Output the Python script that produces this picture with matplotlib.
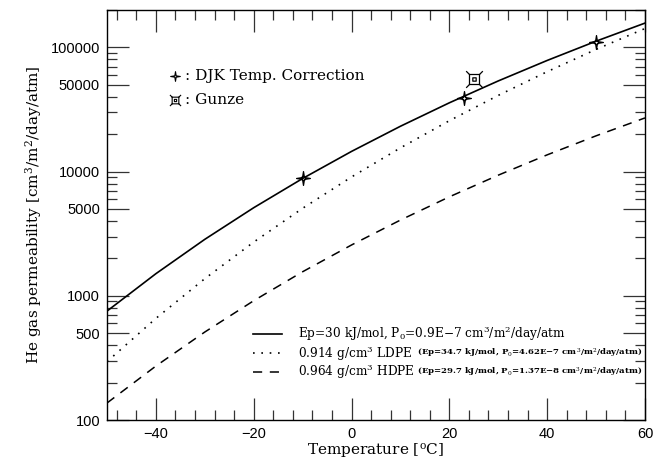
import numpy as np
import matplotlib
matplotlib.use("Agg")
import matplotlib.pyplot as plt
from matplotlib.path import Path
from matplotlib.ticker import FixedLocator, NullFormatter, FuncFormatter

# ---- data ----
temps = [-50, -40, -30, -20, -10, 0, 10, 20, 30, 40, 50, 60]
p_model = [753, 1507, 2849, 5120, 8800, 14540, 23180, 35800, 53700, 78500, 112200, 156900]
p_ldpe = [295, 658, 1374, 2708, 5066, 9054, 15530, 25690, 41070, 63750, 96350, 141900]
p_hdpe = [137, 272, 511, 913, 1562, 2566, 4072, 6264, 9360, 13640, 19410, 27050]

djk_t = [-10, 23, 50]
djk_p = [8800, 39300, 111000]
gunze_t = [25]
gunze_p = [56000]

yticks_major = [100, 500, 1000, 5000, 10000, 50000, 100000]
xticks_major = [-40, -20, 0, 20, 40, 60]

legend_main = ["Ep=30 kJ/mol, P$_0$=0.9E\u22127 cm$^3$/m$^2$/day/atm",
               "0.914 g/cm$^3$ LDPE",
               "0.964 g/cm$^3$ HDPE"]
legend_small = [None,
                "(Ep=34.7 kJ/mol, P$_0$=4.62E\u22127 cm$^3$/m$^2$/day/atm)",
                "(Ep=29.7 kJ/mol, P$_0$=1.37E\u22128 cm$^3$/m$^2$/day/atm)"]

plt.rcParams['mathtext.fontset'] = 'dejavuserif'
serif = 'DejaVu Serif'

# ---- custom markers ----
star_verts = [(0, 1.3), (0.18, 0.18), (1.3, 0), (0.18, -0.18), (0, -1.3),
              (-0.18, -0.18), (-1.3, 0), (-0.18, 0.18), (0, 1.3)]
star = Path(star_verts, [Path.MOVETO] + [Path.LINETO] * 7 + [Path.CLOSEPOLY])

s = 0.6
g_verts = [(-s, -s), (s, -s), (s, s), (-s, s), (-s, -s),
           (s, s), (1, 1), (-s, s), (-1, 1), (s, -s), (1, -1), (-s, -s), (-1, -1),
           (-0.2, -0.2), (0.2, -0.2), (0.2, 0.2), (-0.2, 0.2), (-0.2, -0.2)]
g_codes = [Path.MOVETO, Path.LINETO, Path.LINETO, Path.LINETO, Path.CLOSEPOLY,
           Path.MOVETO, Path.LINETO, Path.MOVETO, Path.LINETO, Path.MOVETO, Path.LINETO,
           Path.MOVETO, Path.LINETO,
           Path.MOVETO, Path.LINETO, Path.LINETO, Path.LINETO, Path.CLOSEPOLY]
gunze_marker = Path(g_verts, g_codes)

fig = plt.figure(figsize=(6.56, 4.66), dpi=100)
ax = fig.add_axes([107 / 656, 46 / 466, 538 / 656, 410 / 466])

ax.plot(temps, p_model, color='black', lw=1.2, ls='-')
ax.plot(temps, p_ldpe, color='black', lw=1.2, ls=(0, (1, 4)))
ax.plot(temps, p_hdpe, color='black', lw=1.1, ls=(0, (6, 5)))

ax.plot(djk_t, djk_p, ls='none', marker=star, ms=10, mfc='none', mec='black', mew=0.9)
ax.plot(djk_t, djk_p, ls='none', marker='o', ms=3, mfc='none', mec='black', mew=0.8)
ax.plot(gunze_t, gunze_p, ls='none', marker=gunze_marker, ms=12, mfc='none', mec='black', mew=0.9)

ax.set_yscale('log')
ax.set_xlim(-50, 60)
ax.set_ylim(100, 2e5)

ax.xaxis.set_major_locator(FixedLocator(xticks_major))
ax.xaxis.set_minor_locator(FixedLocator(np.arange(-48, 60, 4)))
minor_y = []
for dec in [100, 1000, 10000, 100000]:
    for m in [2, 3, 4, 6, 7, 8, 9]:
        if dec * m <= 2e5:
            minor_y.append(dec * m)
ax.yaxis.set_major_locator(FixedLocator(yticks_major))
ax.yaxis.set_minor_locator(FixedLocator(minor_y))
ax.yaxis.set_major_formatter(FuncFormatter(lambda v, p: f"{int(round(v))}"))
ax.yaxis.set_minor_formatter(NullFormatter())
ax.xaxis.set_major_formatter(FuncFormatter(lambda v, p: f"\u2212{int(-v)}" if v < 0 else f"{int(v)}"))

ax.tick_params(which='both', direction='in', top=True, right=True, width=0.9, color='#333333')
ax.tick_params(which='major', length=16, labelsize=10.5, pad=5)
ax.tick_params(which='minor', length=7)
for lab in ax.get_xticklabels() + ax.get_yticklabels():
    lab.set_fontfamily('Liberation Sans')
for sp in ax.spines.values():
    sp.set_linewidth(1.0)

ax.set_xlabel("Temperature [$^{\\rm o}$C]", fontfamily=serif, fontsize=11, labelpad=1)
ax.set_ylabel("He gas permeability [cm$^3$/m$^2$/day/atm]", fontfamily=serif, fontsize=11, labelpad=5)

# symbol legend
ax.plot([0.126], [0.839], transform=ax.transAxes, marker=star, ms=7, mfc='none', mec='black', mew=0.8, ls='none')
ax.plot([0.126], [0.780], transform=ax.transAxes, marker=gunze_marker, ms=8, mfc='none', mec='black', mew=0.8, ls='none')
ax.text(0.145, 0.839, ": DJK Temp. Correction", transform=ax.transAxes, fontfamily=serif,
        fontsize=11, va='center', ha='left')
ax.text(0.145, 0.780, ": Gunze", transform=ax.transAxes, fontfamily=serif,
        fontsize=11, va='center', ha='left')

# line legend
styles = [dict(ls='-', lw=1.2), dict(ls=(0, (1, 4)), lw=1.2), dict(ls=(0, (6, 5)), lw=1.1)]
rows_y = [0.210, 0.163, 0.117]
for st, yy, main, small in zip(styles, rows_y, legend_main, legend_small):
    ax.plot([0.271, 0.325], [yy, yy], transform=ax.transAxes, color='black', **st)
    ax.text(0.355, yy, main, transform=ax.transAxes, fontfamily=serif, fontsize=8.7,
            va='center', ha='left')
    if small:
        ax.text(0.576, yy, small, transform=ax.transAxes, fontfamily=serif, fontsize=6.1,
                fontweight='bold', va='center', ha='left')

fig.savefig("out.png", dpi=100)
